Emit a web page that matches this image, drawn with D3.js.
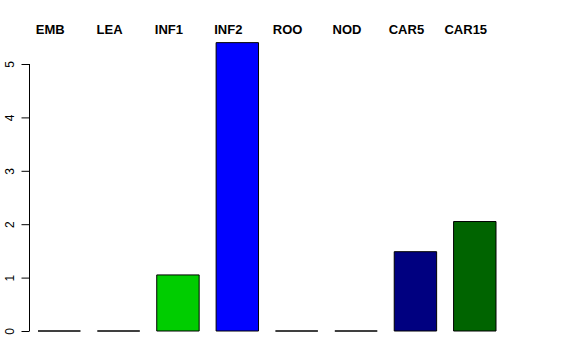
<!DOCTYPE html>
<html>
<head>
<meta charset="utf-8">
<script src="https://cdn.jsdelivr.net/npm/d3@7"></script>
<style>
html, body { margin: 0; padding: 0; background: #fff; }
svg { display: block; }
</style>
</head>
<body>
<script>
const categories = ["EMB", "LEA", "INF1", "INF2", "ROO", "NOD", "CAR5", "CAR15"];
const values = [0, 0, 1.05, 5.4, 0, 0, 1.485, 2.05];
const colors = ["#FFFFFF", "#FFFFFF", "#00CD00", "#0000FF", "#FFFFFF", "#FFFFFF", "#000080", "#006400"];
const yTicks = [0, 1, 2, 3, 4, 5];

const W = 576, H = 360;
const svg = d3.select("body").append("svg").attr("width", W).attr("height", H);

// R barplot geometry: width 1, space 0.4
const space = 0.4, bw = 1;
const lefts = categories.map((c, i) => space + i * (bw + space));
const x = d3.scaleLinear().domain([space, space + (categories.length - 1) * (bw + space) + bw]).range([38, 496]);
const y = d3.scaleLinear().domain([0, 5]).range([331, 64]);

// bars
svg.append("g").selectAll("path").data(categories).join("path")
  .attr("d", (c, i) => {
    const x0 = x(lefts[i]), x1 = x(lefts[i] + bw), y0 = y(0), y1 = y(values[i]);
    return `M${x0},${y0}H${x1}V${y1}H${x0}Z`;
  })
  .attr("fill", (c, i) => colors[i])
  .attr("stroke", "#000")
  .attr("stroke-width", 1);

// y axis
const axis = d3.axisLeft(y).tickValues(yTicks).tickSize(8).tickPadding(4).tickFormat(d3.format("d"));
const ga = svg.append("g").attr("transform", "translate(29.5,0)").call(axis);
ga.select(".domain").attr("d", `M-0,${y(0)}V${y(5)}`).attr("stroke", "#000");
ga.selectAll(".tick line").attr("stroke", "#000");
ga.selectAll(".tick text")
  .attr("x", null).attr("dy", null)
  .attr("transform", "translate(-15.5,0) rotate(-90)")
  .attr("text-anchor", "middle")
  .attr("font-family", "Liberation Sans, Arial, sans-serif")
  .attr("font-size", 12)
  .attr("fill", "#000");

// category labels on top
svg.append("g").selectAll("text").data(categories).join("text")
  .attr("x", (c, i) => x(lefts[i] + bw / 2) - 9)
  .attr("y", 34)
  .attr("text-anchor", "middle")
  .attr("font-family", "Liberation Sans, Arial, sans-serif")
  .attr("font-weight", "bold")
  .attr("font-size", 13)
  .attr("fill", "#000")
  .text(d => d);
</script>
</body>
</html>
